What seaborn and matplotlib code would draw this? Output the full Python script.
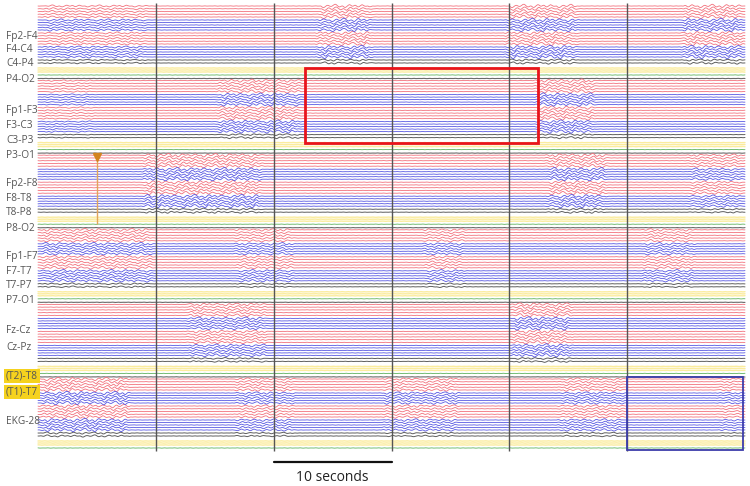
import numpy as np
import pandas as pd
import seaborn as sns
import matplotlib.pyplot as plt
from matplotlib.patches import Rectangle

# channel labels down the left side
channel_labels = ['Fp2-F4', 'F4-C4', 'C4-P4', 'P4-O2',
                  'Fp1-F3', 'F3-C3', 'C3-P3', 'P3-O1',
                  'Fp2-F8', 'F8-T8', 'T8-P8', 'P8-O2',
                  'Fp1-F7', 'F7-T7', 'T7-P7', 'P7-O1',
                  'Fz-Cz', 'Cz-Pz',
                  '(T2)-T8', '(T1)-T7', 'EKG-28']
highlighted = ['(T2)-T8', '(T1)-T7']

# bursts of activity per block: (start s, end s, relative amplitude)
block1_bursts = [(0.2, 9.5, 0.6), (23.5, 28.5, 1.0), (39.5, 46.0, 1.0), (54.5, 60.0, 1.0)]
block2_bursts = [(0.0, 5.0, 0.4), (15.0, 22.5, 0.9), (42.0, 47.5, 1.0)]
block3_bursts = [(8.7, 19.2, 1.0), (43.0, 48.5, 1.0), (55.0, 60.0, 0.7)]
block4_bursts = [(0.0, 10.0, 0.8), (16.5, 22.0, 0.7), (32.5, 36.5, 0.7), (51.0, 56.0, 0.7)]
block5_bursts = [(12.5, 19.7, 0.8), (40.0, 45.5, 1.0)]
block6_bursts = [(0.0, 8.0, 1.0), (16.5, 22.0, 0.7), (29.0, 36.0, 0.7), (44.0, 50.0, 0.7), (57.5, 60.0, 0.5)]
all_bursts = [block1_bursts, block2_bursts, block3_bursts, block4_bursts, block5_bursts, block6_bursts]

# one hand-drawn irregular slow-wave shape (4 s) and a small baseline ripple, tiled along the trace
wave_shape = [0.0, 0.4, 0.8, 1.0, 0.7, 0.2, -0.3, -0.5, -0.3, 0.1, 0.3, 0.2, -0.2, -0.6, -0.9,
              -1.0, -0.7, -0.2, 0.3, 0.6, 0.5, 0.1, -0.1, 0.2, 0.7, 0.9, 0.6, 0.0, -0.5, -0.8,
              -0.6, -0.2, 0.1, 0.0, -0.3, -0.4, -0.1, 0.3, 0.5, 0.3, -0.1, -0.4, -0.7, -0.5,
              -0.2, 0.1, 0.2, 0.1]
ripple_shape = [0.0, 0.4, 0.1, -0.3, -0.5, -0.1, 0.3, 0.5, 0.2, -0.2, -0.4, 0.0, 0.3, 0.1, -0.3, -0.1]

duration = 60
fs = 12
t = np.arange(duration * fs + 1) / fs
n = len(t)
wave = np.tile(wave_shape, n // len(wave_shape) + 1)[:n]
ripple = np.tile(ripple_shape, n // len(ripple_shape) + 1)[:n]

# layout inside a block (pixels below the block's first red trace)
groups = [('red', [0, 2.75, 5.5, 8.25, 11], 1.0),
          ('blue', [14, 16.5, 19, 21.5, 24], 1.0),
          ('red', [27, 29.75, 32.5, 35.25, 38], 1.0),
          ('blue', [41, 43.5, 46, 48.5, 51], 1.0),
          ('gray', [54, 57], 0.6),
          ('yellow', [62, 64, 66], 0.0),
          ('green', [69], 0.0),
          ('sep', [72.5], 0.0)]
colors = {'red': '#f2707c', 'blue': '#5858e2', 'gray': '#5e5e5e',
          'yellow': '#fbec9e', 'green': '#5cb25c', 'sep': '#6a6a6a'}
widths = {'red': 0.6, 'blue': 0.6, 'gray': 0.7, 'yellow': 1.0, 'green': 0.6, 'sep': 0.8}


def envelope(bursts):
    env = np.zeros(n)
    for s, e, a in bursts:
        ramp = np.clip(np.minimum(t - s, e - t) / 0.6, 0, 1)
        env = np.maximum(env, a * ramp)
    return env


rows = {k: [] for k in colors}
trace_id = 0
for b, bursts in enumerate(all_bursts):
    top = 6 + 74.6 * b
    env = envelope(bursts)
    for g, (kind, offsets, gain) in enumerate(groups):
        if kind == 'sep' and b == len(all_bursts) - 1:
            continue
        for i, off in enumerate(offsets):
            sig = np.roll(wave, 9 * g + (i % 2) + 11 * b)
            rip = np.roll(ripple, 5 * i + 3 * g + b)
            y = top + off + 1.7 * gain * env * sig + 0.3 * rip
            rows[kind].append(pd.DataFrame({'t': t, 'y': y, 'trace': trace_id}))
            trace_id += 1

sns.set_theme(style='white')
plt.rcParams['font.family'] = ['Open Sans', 'DejaVu Sans']

fig = plt.figure(figsize=(7.5, 4.86), dpi=100)
ax = fig.add_axes([0, 0, 1, 1])
px = 707 / 60
ax.set_xlim(-38 / px, 60 + 5 / px)
ax.set_ylim(486, 0)
ax.axis('off')

for kind in ['yellow', 'green', 'sep', 'gray', 'red', 'blue']:
    df = pd.concat(rows[kind])
    sns.lineplot(data=df, x='t', y='y', units='trace', estimator=None, sort=False,
                 color=colors[kind], lw=widths[kind], ax=ax, legend=False)

ax.vlines([10, 20, 30, 40, 50], 3, 451, color='#555555', lw=1, zorder=3)

label_y = [36, 50, 63, 80, 110, 125, 140, 155, 183, 198, 212, 228,
           256, 271, 285, 300, 330, 347, 376, 392, 421]
for lab, y in zip(channel_labels, label_y):
    kw = {}
    if lab in highlighted:
        kw['bbox'] = dict(boxstyle='square,pad=0.15', fc='#f5d21e', ec='none')
    ax.text(-32 / px, y, lab, fontsize=7.3, color='#555555', va='center', ha='left', **kw)

ax.add_patch(Rectangle((22.66, 68), 19.77, 75, fill=False, ec='#e8141c', lw=2, zorder=5))
ax.add_patch(Rectangle((50.0, 377), 9.83, 73, fill=False, ec='#3c3caa', lw=1.3, zorder=5))

ax.vlines(5.0, 157, 224, color='#e3a45a', lw=1, zorder=4)
ax.plot([5.0], [157], marker='v', ms=6, color='#d2841e', zorder=5)

ax.plot([20, 30], [462, 462], color='#111111', lw=1.6)
ax.text(25, 470, '10 seconds', fontsize=10, color='#222222', ha='center', va='top')

fig.savefig('out.png', dpi=100)
